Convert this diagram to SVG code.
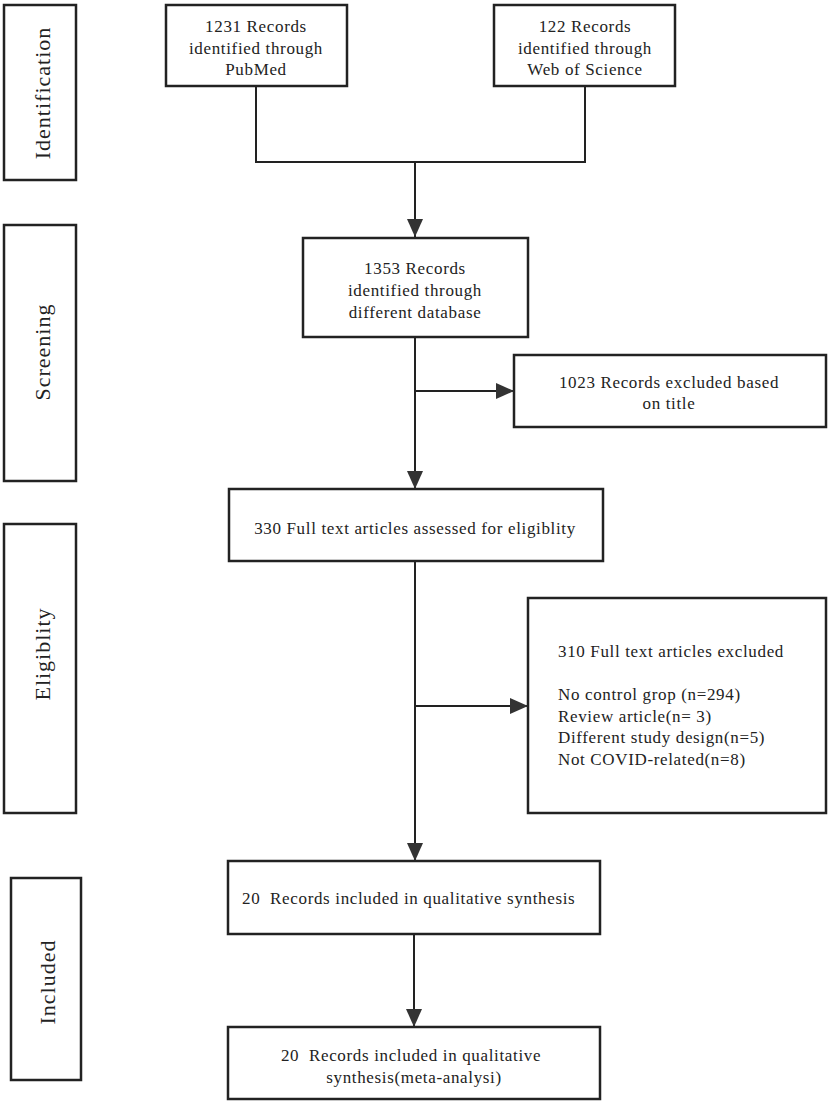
<svg xmlns="http://www.w3.org/2000/svg" width="829" height="1104" viewBox="0 0 829 1104">
<style>
.box{fill:#fff;stroke:#222;stroke-width:2.5}
.t,.tl{font-family:"Liberation Serif","Times New Roman",serif;font-size:17px;fill:#222;dominant-baseline:central;letter-spacing:0.65px;white-space:pre}
.t{text-anchor:middle}
.tl{text-anchor:start}
.side{font-family:"Liberation Serif","Times New Roman",serif;font-size:22px;fill:#222;text-anchor:middle;dominant-baseline:central;letter-spacing:1px}
.ln{fill:none;stroke:#222;stroke-width:2}
</style>
<defs>
<marker id="ah" viewBox="0 0 18 16" refX="18" refY="8" markerWidth="18" markerHeight="16" markerUnits="userSpaceOnUse" orient="auto">
<path d="M0,0 L18,8 L0,16 Z" fill="#333"/>
</marker>
</defs>
<rect width="829" height="1104" fill="#fff"/>

<g id="label-identification"><rect class="box" x="4" y="5" width="72" height="175"/><text class="side" transform="translate(42,93) rotate(-90)">Identification</text></g>
<g id="label-screening"><rect class="box" x="4" y="225" width="72" height="256"/><text class="side" transform="translate(42,352) rotate(-90)">Screening</text></g>
<g id="label-eligibility"><rect class="box" x="4" y="524" width="72" height="289"/><text class="side" transform="translate(42,654) rotate(-90)">Eligiblity</text></g>
<g id="label-included"><rect class="box" x="11" y="878" width="70" height="202"/><text class="side" transform="translate(47,982) rotate(-90)">Included</text></g>

<g id="node-pubmed"><rect class="box" x="166" y="5" width="181" height="81"/>
<text class="t" x="256" y="26">1231 Records</text><text class="t" x="256" y="48">identified through</text><text class="t" x="256" y="69">PubMed</text></g>
<g id="node-wos"><rect class="box" x="494" y="5" width="181" height="81"/>
<text class="t" x="585" y="26">122 Records</text><text class="t" x="585" y="48">identified through</text><text class="t" x="585" y="69">Web of Science</text></g>
<g id="node-1353"><rect class="box" x="303" y="238" width="225" height="99"/>
<text class="t" x="415" y="268">1353 Records</text><text class="t" x="415" y="290">identified through</text><text class="t" x="415" y="312">different database</text></g>
<g id="node-1023"><rect class="box" x="514" y="355" width="312" height="72"/>
<text class="t" x="669" y="382">1023 Records excluded based</text><text class="t" x="669" y="403">on title</text></g>
<g id="node-330"><rect class="box" x="229" y="489" width="374" height="72"/>
<text class="t" x="415" y="528">330 Full text articles assessed for eligiblity</text></g>
<g id="node-310"><rect class="box" x="528" y="598" width="298" height="215"/>
<text class="tl" x="558" y="651">310 Full text articles excluded</text>
<text class="tl" x="558" y="694">No control grop (n=294)</text>
<text class="tl" x="558" y="716">Review article(n= 3)</text>
<text class="tl" x="558" y="737">Different study design(n=5)</text>
<text class="tl" x="558" y="759">Not COVID-related(n=8)</text></g>
<g id="node-20a"><rect class="box" x="228" y="861" width="372" height="73"/>
<text class="tl" x="242" y="898">20  Records included in qualitative synthesis</text></g>
<g id="node-20b"><rect class="box" x="228" y="1027" width="372" height="72"/>
<text class="t" x="411" y="1055">20  Records included in qualitative</text><text class="t" x="414" y="1077">synthesis(meta-analysi)</text></g>

<g id="connectors">
<path class="ln" d="M256,86 V162 H585 V86"/>
<path class="ln" d="M415,162 V237" marker-end="url(#ah)"/>
<path class="ln" d="M415,337 V489" marker-end="url(#ah)"/>
<path class="ln" d="M415,391 H514" marker-end="url(#ah)"/>
<path class="ln" d="M415,561 V861" marker-end="url(#ah)"/>
<path class="ln" d="M415,706 H528" marker-end="url(#ah)"/>
<path class="ln" d="M414,934 V1027" marker-end="url(#ah)"/>
</g>
</svg>
